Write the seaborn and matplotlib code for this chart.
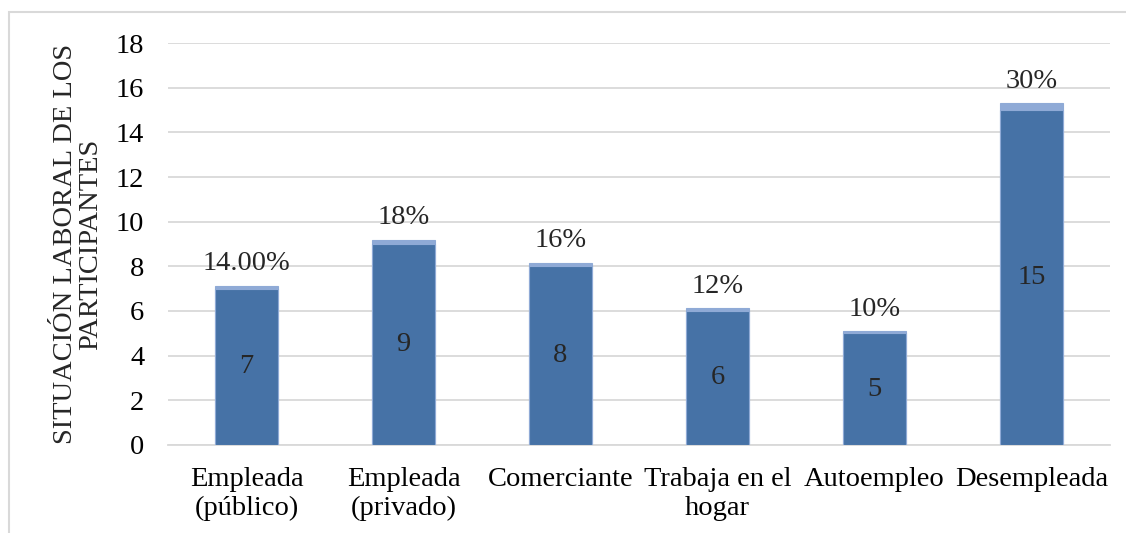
import matplotlib
matplotlib.use("Agg")
import matplotlib.pyplot as plt
from matplotlib.patches import Rectangle
import seaborn as sns
import pandas as pd

# Situación laboral de las participantes
categorias = ["Empleada\n(público)", "Empleada\n(privado)", "Comerciante",
              "Trabaja en el\nhogar", "Autoempleo", "Desempleada"]
conteos = [7, 9, 8, 6, 5, 15]
porcentajes = [0.14, 0.18, 0.16, 0.12, 0.10, 0.30]
etiquetas_pct = ["14.00%", "18%", "16%", "12%", "10%", "30%"]

df = pd.DataFrame({
    "categoria": categorias,
    "conteo": conteos,
    "porcentaje": porcentajes,
})
df["total"] = df["conteo"] + df["porcentaje"]

sns.set_theme(style="white")
plt.rcParams["font.family"] = ["Liberation Serif", "DejaVu Serif"]

oscuro = "#4672A6"
claro = "#8FAAD6"
gris = "#D9D9D9"
fs = 20.5

fig = plt.figure(figsize=(11.26, 5.33), dpi=100)
ax = fig.add_axes([168 / 1126, 1 - 445 / 533, (1110 - 168) / 1126, (445 - 43) / 533])

# Stacked look: full height (count + share) in light blue, count in dark blue over it
sns.barplot(data=df, x="categoria", y="total", color=claro, saturation=1,
            width=0.4, ax=ax, edgecolor=claro, linewidth=0.8, zorder=2)
sns.barplot(data=df, x="categoria", y="conteo", color=oscuro, saturation=1,
            width=0.4, ax=ax, edgecolor=claro, linewidth=0.8, zorder=3)

ax.set_ylim(0, 18)
ax.set_xlim(-0.5, len(categorias) - 0.5)
ax.set_yticks(range(0, 19, 2))
ax.yaxis.grid(True, color=gris, linewidth=1.3, zorder=0)
ax.set_axisbelow(True)
for s in ["top", "right", "left"]:
    ax.spines[s].set_visible(False)
ax.spines["bottom"].set_color(gris)
ax.spines["bottom"].set_linewidth(1.3)
ax.tick_params(axis="both", length=0, labelsize=fs, colors="black")
ax.tick_params(axis="y", pad=17)
ax.tick_params(axis="x", pad=16)
for t in ax.get_xticklabels():
    t.set_linespacing(1.18)
ax.set_xlabel("")

ax.set_ylabel("SITUACIÓN LABORAL DE LOS\nPARTICIPANTES", fontsize=fs,
              linespacing=1.0)
ax.yaxis.label.set_va("center")
ax.yaxis.label.set_ha("center")
ax.yaxis.set_label_coords((78 - 168) / 942, 0.5)

# Count labels inside the dark segment, share labels above each bar
for i, (c, t, lab) in enumerate(zip(df["conteo"], df["total"], etiquetas_pct)):
    ax.text(i, c / 2, str(c), ha="center", va="center", fontsize=fs, zorder=5)
    ax.annotate(lab, (i, t), xytext=(0, 22), textcoords="offset pixels",
                ha="center", va="center", fontsize=fs, zorder=5)

# Outer chart frame
fig.patches.append(Rectangle((9 / 1126, -0.1), 1.2, (533 - 12) / 533 + 0.1,
                             transform=fig.transFigure, fill=False,
                             edgecolor=gris, linewidth=1.5))

fig.savefig("out.png", dpi=100)
